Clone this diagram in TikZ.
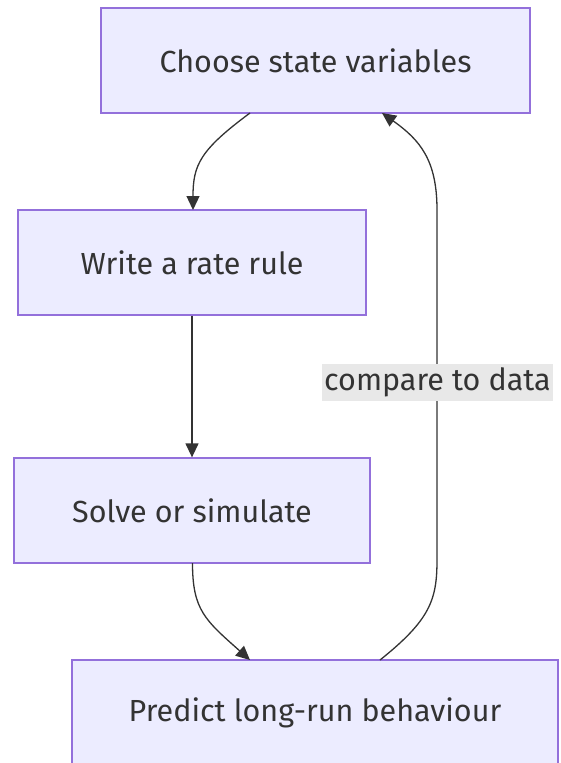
\documentclass[tikz,border=0pt]{standalone}
\usepackage{fontspec}
\setmainfont{Fira Sans}
\usetikzlibrary{arrows.meta}
\definecolor{boxfill}{HTML}{ECECFF}
\definecolor{boxline}{HTML}{9370DB}
\definecolor{ink}{HTML}{333333}
\definecolor{labelbg}{HTML}{E8E8E8}
\begin{document}
\begin{tikzpicture}[x=1pt,y=-1pt,
  stepbox/.style={draw=boxline, fill=boxfill, line width=1.3pt, inner sep=0pt,
    minimum height=105pt, text=ink, font=\fontsize{30.5}{34}\selectfont},
  flow/.style={draw=ink, line width=1.3pt, -{Triangle[length=14pt,width=13pt]}},
  edgelabel/.style={fill=labelbg, text=ink, inner sep=0pt, minimum height=37pt,
    minimum width=231pt, font=\fontsize{30.5}{34}\selectfont}]
\useasboundingbox (0,0) rectangle (560,763);
\node[stepbox, minimum width=429pt] (choose) at (315.5,60.5) {Choose state variables};
\node[stepbox, minimum width=348pt] (write) at (192,262.5) {Write a rate rule};
\node[stepbox, minimum width=356pt] (solve) at (192,510.5) {Solve or simulate};
\node[stepbox, minimum width=486pt] (predict) at (315,712.5) {Predict long-run behaviour};
\coordinate (a1) at (250,113);
\coordinate (b1) at (193,210);
\coordinate (c1) at (192.5,563);
\coordinate (d1) at (250,660);
\coordinate (d2) at (380,660);
\coordinate (a2) at (382,113);
\draw[flow] (a1) .. controls (200,150) and (193,165) .. (b1);
\draw[flow] (write.south) -- (solve.north);
\draw[flow] (c1) .. controls (192.5,610) and (205,620) .. (d1);
\draw[flow] (d2) .. controls (430,620) and (437,600) .. (437,560)
  -- (437,210) .. controls (437,160) and (420,140) .. (a2);
\node[edgelabel] (cmp) at (437.5,382.5) {compare to data};
\end{tikzpicture}
\end{document}
